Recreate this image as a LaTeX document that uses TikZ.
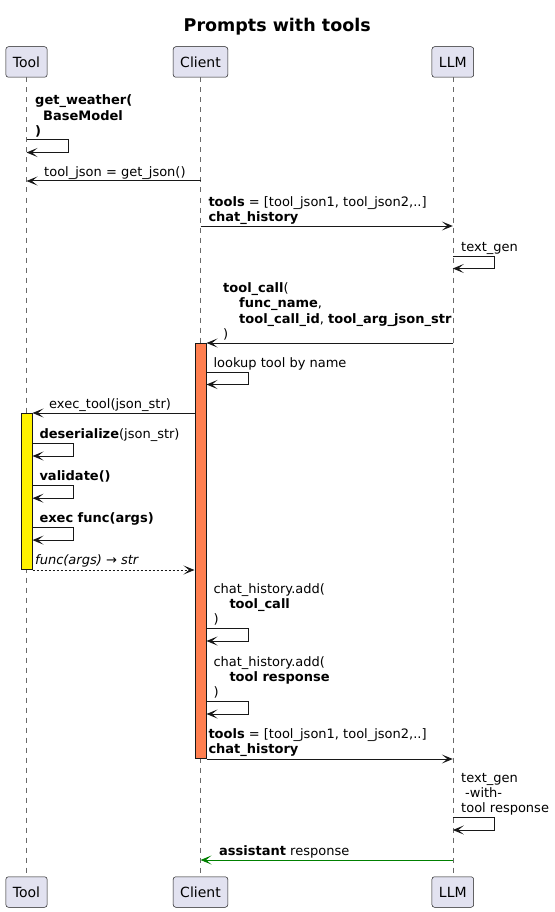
\documentclass[tikz,border=0pt]{standalone}
\usepackage{fontspec}
\setmainfont{DejaVu Sans}
\usetikzlibrary{positioning, arrows.meta}

\definecolor{partfill}{HTML}{E2E2F0}
\definecolor{partline}{HTML}{181818}
\definecolor{barorange}{HTML}{FF7F50}
\definecolor{respgreen}{HTML}{008000}

\tikzset{
	part/.style={draw=partline, line width=0.5pt, fill=partfill, rounded corners=2.5pt,
		minimum height=30.5pt, inner xsep=7pt, font=\fontsize{14}{16}\selectfont},
	lifeline/.style={draw=partline!65, line width=0.5pt, dash pattern=on 5pt off 5pt},
	actbar/.style={draw=partline, line width=1pt, minimum width=11pt, inner sep=0pt, anchor=north},
	msg/.style={draw=partline, line width=1pt, -{Stealth[length=11pt, width=9pt, inset=5.5pt]}},
	ret/.style={msg, dash pattern=on 2pt off 2pt},
	lbl/.style={inner sep=0pt, anchor=south west, align=left,
		font=\fontsize{13}{15.2}\selectfont, execute at end node=\strut},
}

\begin{document}
\begin{tikzpicture}[x=1pt, y=-1pt]
		\useasboundingbox (0,0) rectangle (554,912);

		% Title
		\node[anchor=base, font=\fontsize{17.5}{20}\selectfont\bfseries] (title) at (277.2,31.7) {Prompts with tools};

		% Nodes
		\node[part] (tool) at (26.5,62) {Tool};
		\node[part] (client) at (200.5,62) {Client};
		\node[part] (llm) at (452.8,62) {LLM};
		\node[part] (tool_b) at (26.5,892) {Tool};
		\node[part] (client_b) at (200.5,892) {Client};
		\node[part] (llm_b) at (452.8,892) {LLM};

		% Lifelines
		\draw[lifeline] (tool) -- (tool_b);
		\draw[lifeline] (client) -- (client_b);
		\draw[lifeline] (llm) -- (llm_b);

		% Activations
		\node[actbar, fill=barorange, minimum height=415pt] (act_client) at (200.5,343) {};
		\node[actbar, fill=yellow, minimum height=156pt] (act_tool) at (26.5,413) {};

		% Arrows
		% tool definition
		\coordinate (weather) at (26.5,140);
		\draw[msg] (weather) -- ++(42,0) -- ++(0,12.5) -- ++(-42,0);
		\node[lbl] (weather_lbl) at (35,140) {\textbf{get\_weather(}\\\hspace*{8pt}\textbf{BaseModel}\\\textbf{)}};

		\coordinate (json) at (200.5,181);
		\draw[msg] (json) -- (json -| tool);
		\node[lbl] (json_lbl) at (44,181) {tool\_json = get\_json()};

		\coordinate (tools_a) at (200.5,226);
		\draw[msg] (tools_a) -- (tools_a -| llm);
		\node[lbl] (tools_a_lbl) at (208.3,226) {\textbf{tools} = [tool\_json1, tool\_json2,..]\\\textbf{chat\_history}};

		\coordinate (gen_a) at (452.8,256);
		\draw[msg] (gen_a) -- ++(42,0) -- ++(0,12.5) -- ++(-42,0);
		\node[lbl] (gen_a_lbl) at (461,256) {text\_gen};

		% tool call back to the client
		\coordinate (call) at (452.8,343);
		\draw[msg] (call) -- (act_client.north east);
		\node[lbl] (call_lbl) at (223,343) {\textbf{tool\_call}(\\\hspace*{16pt}\textbf{func\_name},\\\hspace*{16pt}\textbf{tool\_call\_id}, \textbf{tool\_arg\_json\_str}\\)};

		\coordinate (lookup) at (206.5,372);
		\draw[msg] (lookup) -- ++(41.5,0) -- ++(0,12.5) -- ++(-41.5,0);
		\node[lbl] (lookup_lbl) at (213.3,372) {lookup tool by name};

		\coordinate (exec) at (194.5,413);
		\draw[msg] (exec) -- (act_tool.north east);
		\node[lbl] (exec_lbl) at (49,413) {exec\_tool(json\_str)};

		% inside the tool
		\coordinate (deser) at (32.5,443.3);
		\draw[msg] (deser) -- ++(41,0) -- ++(0,12.7) -- ++(-41,0);
		\node[lbl] (deser_lbl) at (39.3,443.3) {\textbf{deserialize}(json\_str)};

		\coordinate (valid) at (32.5,485.7);
		\draw[msg] (valid) -- ++(41,0) -- ++(0,12.5) -- ++(-41,0);
		\node[lbl] (valid_lbl) at (39.3,485.7) {\textbf{validate()}};

		\coordinate (func) at (32.5,527.3);
		\draw[msg] (func) -- ++(41,0) -- ++(0,12.8) -- ++(-41,0);
		\node[lbl] (func_lbl) at (39.3,527.3) {\textbf{exec func(args)}};

		\draw[ret] (act_tool.south east) -- (act_tool.south east -| act_client.west);
		\node[lbl] (ret_lbl) at (35,569.3) {\itshape func(args) → str};

		% history and second round
		\coordinate (add_a) at (206.5,628.7);
		\draw[msg] (add_a) -- ++(41.5,0) -- ++(0,12.3) -- ++(-41.5,0);
		\node[lbl] (add_a_lbl) at (213.3,628.7) {chat\_history.add(\\\hspace*{16pt}\textbf{tool\_call}\\)};

		\coordinate (add_b) at (206.5,701.7);
		\draw[msg] (add_b) -- ++(41.5,0) -- ++(0,12.3) -- ++(-41.5,0);
		\node[lbl] (add_b_lbl) at (213.3,701.7) {chat\_history.add(\\\hspace*{16pt}\textbf{tool response}\\)};

		\draw[msg] (act_client.south east) -- (act_client.south east -| llm);
		\node[lbl] (tools_b_lbl) at (208.3,758.3) {\textbf{tools} = [tool\_json1, tool\_json2,..]\\\textbf{chat\_history}};

		\coordinate (gen_b) at (452.8,817.3);
		\draw[msg] (gen_b) -- ++(42,0) -- ++(0,12.7) -- ++(-42,0);
		\node[lbl] (gen_b_lbl) at (461,817.3) {text\_gen\\\hspace*{4pt}-with-\\tool response};

		\coordinate (answer) at (452.8,860);
		\draw[msg, draw=respgreen] (answer) -- (answer -| client);
		\node[lbl] (answer_lbl) at (219,860) {\textbf{assistant} response};

	\end{tikzpicture}
\end{document}
